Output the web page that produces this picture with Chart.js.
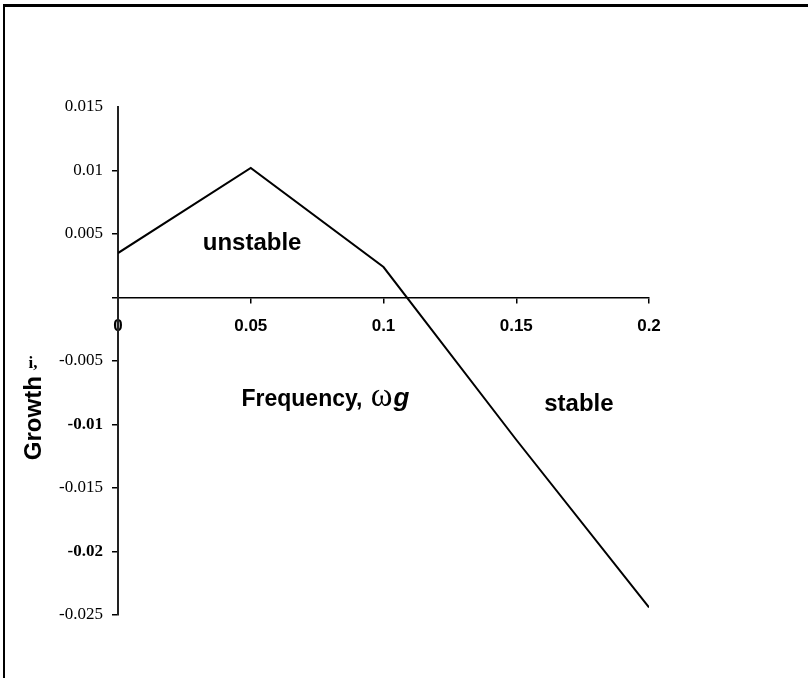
<!DOCTYPE html>
<html>
<head>
<meta charset="utf-8">
<script src="https://cdn.jsdelivr.net/npm/chart.js@4"></script>
<style>
  body { margin: 0; background: #fff; }
  #wrap { position: relative; width: 808px; height: 678px; }
  #frame { position: absolute; left: 3px; top: 4px; right: 0; bottom: 0;
           border-top: 3px solid #000; border-left: 2px solid #000; pointer-events: none; }
</style>
</head>
<body>
<div id="wrap">
  <canvas id="growthChart" width="808" height="678"></canvas>
  <div id="frame"></div>
</div>
<script>
// Werte
const frequency = [0, 0.05, 0.1, 0.15, 0.2];
const growth = [0.0035, 0.0102, 0.0024, -0.0112, -0.0244];

const xTicks = [0, 0.05, 0.1, 0.15, 0.2];
const xTickLabels = ['0', '0.05', '0.1', '0.15', '0.2'];
const yTicks = [0.015, 0.01, 0.005, 0, -0.005, -0.01, -0.015, -0.02, -0.025];
const yTickLabels = ['0.015', '0.01', '0.005', '', '-0.005', '-0.01', '-0.015', '-0.02', '-0.025'];
const yBoldLabels = ['-0.01', '-0.02'];

const sans = '"Liberation Sans", Arial, sans-serif';
const serif = '"Liberation Serif", "Times New Roman", serif';

// Beschriftungen im Diagramm
const textPlugin = {
    id: 'texts',
    afterDraw(chart) {
        const ctx = chart.ctx;
        const xs = chart.scales.x;
        const ys = chart.scales.y;
        ctx.save();
        ctx.fillStyle = '#000';
        ctx.textBaseline = 'middle';
        ctx.textAlign = 'center';

        ctx.font = 'bold 24px ' + sans;
        ctx.fillText('unstable', xs.getPixelForValue(0.0505), ys.getPixelForValue(0.0043));
        ctx.fillText('stable', xs.getPixelForValue(0.1736), ys.getPixelForValue(-0.0084));

        // Frequency, ωg
        ctx.textAlign = 'left';
        ctx.textBaseline = 'alphabetic';
        let x = xs.getPixelForValue(0.0465);
        const y = ys.getPixelForValue(-0.0079) + 8;
        ctx.font = 'bold 23px ' + sans;
        ctx.fillText('Frequency, ', x, y);
        x += ctx.measureText('Frequency, ').width + 2;
        ctx.font = '33px ' + serif;
        ctx.fillText('ω', x, y);
        x += ctx.measureText('ω').width + 1;
        ctx.font = 'italic bold 26px ' + sans;
        ctx.fillText('g', x, y);

        // Achsentitel
        ctx.textAlign = 'center';
        ctx.textBaseline = 'middle';
        ctx.font = 'bold 17px ' + serif;
        ctx.fillText('i,', chart.chartArea.left - 85, ys.getPixelForValue(-0.0052));

        ctx.translate(chart.chartArea.left - 84, ys.getPixelForValue(-0.0095));
        ctx.rotate(-Math.PI / 2);
        ctx.font = 'bold 24px ' + sans;
        ctx.fillText('Growth', 0, 0);
        ctx.restore();
    }
};

const chartCtx = document.getElementById('growthChart').getContext('2d');
new Chart(chartCtx, {
    type: 'line',
    data: {
        datasets: [{
            label: 'Growth',
            data: frequency.map((f, i) => ({ x: f, y: growth[i] })),
            borderColor: '#000',
            borderWidth: 2,
            pointRadius: 0,
            tension: 0,
            fill: false
        }]
    },
    options: {
        responsive: false,
        animation: false,
        layout: { padding: { top: 107, bottom: 63, left: 0, right: 159 } },
        plugins: { legend: { display: false }, tooltip: { enabled: false } },
        scales: {
            x: {
                type: 'linear',
                position: { y: 0 },
                min: 0,
                max: 0.2,
                afterBuildTicks: scale => { scale.ticks = xTicks.map(v => ({ value: v })); },
                ticks: {
                    color: '#000',
                    padding: 14,
                    font: { family: sans, size: 17, weight: 'bold' },
                    callback: (v, i) => xTickLabels[i]
                },
                grid: { drawOnChartArea: false, tickLength: 5, color: '#000', lineWidth: 1.5 },
                border: { color: '#000', width: 1.5 }
            },
            y: {
                type: 'linear',
                position: 'left',
                min: -0.025,
                max: 0.015,
                afterBuildTicks: scale => { scale.ticks = yTicks.map(v => ({ value: v })); },
                afterFit: scale => { scale.width = 118; },
                ticks: {
                    color: '#000',
                    padding: 9,
                    font: c => ({
                        family: serif,
                        size: 17,
                        weight: yBoldLabels.includes(yTickLabels[c.index]) ? 'bold' : 'normal'
                    }),
                    callback: (v, i) => yTickLabels[i]
                },
                grid: {
                    drawOnChartArea: false,
                    tickLength: 6,
                    color: c => (c.index === 0 ? 'rgba(0,0,0,0)' : '#000'),
                    lineWidth: 1.5
                },
                border: { color: '#222', width: 2 }
            }
        }
    },
    plugins: [textPlugin]
});
</script>
</body>
</html>
